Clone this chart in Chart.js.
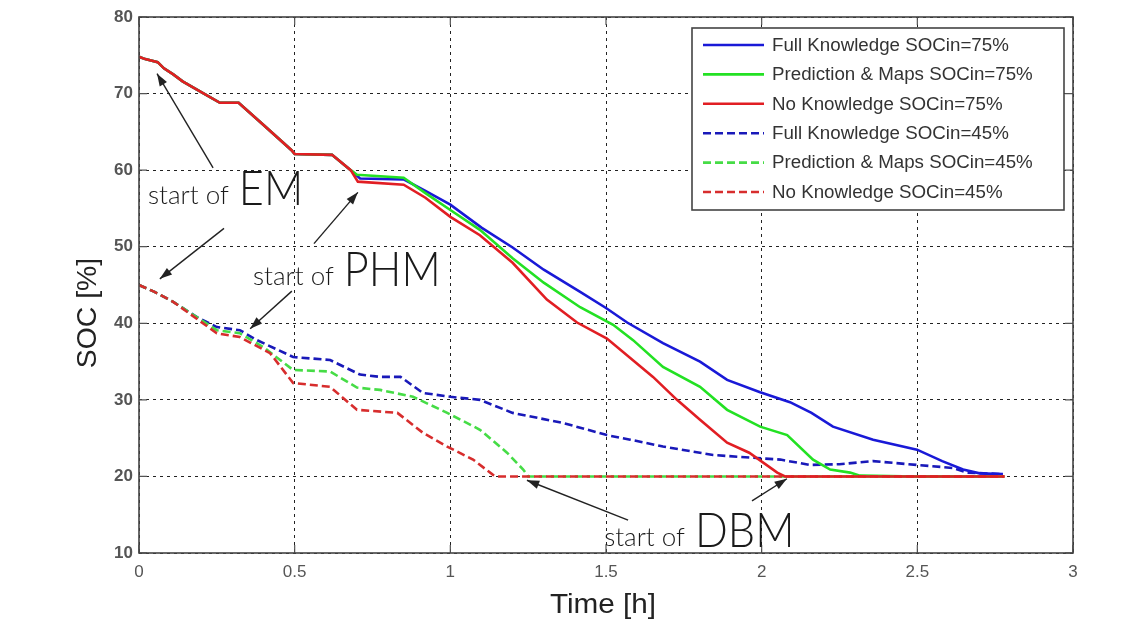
<!DOCTYPE html>
<html><head><meta charset="utf-8">
<script src="https://cdn.jsdelivr.net/npm/chart.js@4/dist/chart.umd.min.js"></script>
<style>html,body{margin:0;padding:0;background:#fff;}#wrap{width:1135px;height:622px;}</style>
</head><body><div id="wrap"><canvas id="c" width="1135" height="622"></canvas></div>
<script>
// ---- data (time in hours, SOC in %) ----
const xTicks = [0, 0.5, 1, 1.5, 2, 2.5, 3];
const yTicks = [10, 20, 30, 40, 50, 60, 70, 80];
const seriesLabels = [
  'Full Knowledge SOCin=75%', 'Prediction & Maps SOCin=75%', 'No Knowledge SOCin=75%',
  'Full Knowledge SOCin=45%', 'Prediction & Maps SOCin=45%', 'No Knowledge SOCin=45%'
];

const fk75_t   = [0, 0.02, 0.06, 0.08, 0.11, 0.14, 0.2, 0.26, 0.32, 0.4, 0.49, 0.5, 0.62, 0.68, 0.71, 0.85, 0.92, 1.0, 1.1, 1.2, 1.3, 1.417, 1.5, 1.568, 1.683, 1.802, 1.889, 1.995, 2.091, 2.16, 2.229, 2.358, 2.499, 2.58, 2.647, 2.7, 2.775];
const fk75_soc = [74.8, 74.5, 74.1, 73.3, 72.5, 71.6, 70.2, 68.8, 68.8, 65.9, 62.6, 62.1, 62.0, 60.0, 58.9, 58.8, 57.3, 55.5, 52.5, 49.9, 47.0, 44.1, 42.0, 40.1, 37.4, 35.0, 32.6, 31.0, 29.7, 28.3, 26.5, 24.8, 23.5, 22.0, 20.9, 20.4, 20.3];

const pm75_t   = [0, 0.02, 0.06, 0.08, 0.11, 0.14, 0.2, 0.26, 0.32, 0.4, 0.49, 0.5, 0.62, 0.68, 0.70, 0.85, 0.92, 1.0, 1.095, 1.2, 1.3, 1.417, 1.523, 1.587, 1.683, 1.802, 1.889, 1.995, 2.082, 2.165, 2.22, 2.284, 2.316, 2.5, 2.78];
const pm75_soc = [74.8, 74.5, 74.1, 73.3, 72.5, 71.6, 70.2, 68.8, 68.8, 65.9, 62.6, 62.1, 62.0, 60.0, 59.4, 59.0, 57.0, 54.8, 52.2, 48.5, 45.3, 42.1, 39.8, 37.8, 34.3, 31.7, 28.7, 26.5, 25.4, 22.2, 20.9, 20.5, 20.1, 20.0, 20.0];

const nk75_t   = [0, 0.02, 0.06, 0.08, 0.11, 0.14, 0.2, 0.26, 0.32, 0.4, 0.49, 0.5, 0.62, 0.68, 0.703, 0.85, 0.92, 1.0, 1.095, 1.2, 1.31, 1.407, 1.503, 1.651, 1.728, 1.802, 1.889, 1.96, 2.05, 2.075, 2.5, 2.78];
const nk75_soc = [74.8, 74.5, 74.1, 73.3, 72.5, 71.6, 70.2, 68.8, 68.8, 65.9, 62.6, 62.1, 62.0, 60.0, 58.5, 58.1, 56.4, 53.9, 51.5, 47.9, 43.1, 40.1, 38.0, 33.0, 30.0, 27.4, 24.4, 23.1, 20.5, 20.0, 20.0, 20.0];

const fk45_t   = [0, 0.05, 0.11, 0.186, 0.25, 0.324, 0.379, 0.495, 0.614, 0.71, 0.774, 0.84, 0.912, 1.0, 1.095, 1.2, 1.36, 1.503, 1.578, 1.683, 1.844, 1.985, 2.06, 2.155, 2.25, 2.358, 2.499, 2.615, 2.66, 2.775];
const fk45_soc = [45.0, 44.1, 42.8, 40.8, 39.5, 39.1, 37.8, 35.6, 35.2, 33.3, 33.0, 33.0, 30.9, 30.4, 30.0, 28.3, 27.0, 25.4, 24.8, 23.9, 22.8, 22.4, 22.2, 21.5, 21.6, 22.0, 21.5, 21.1, 20.5, 20.3];

const pm45_t   = [0, 0.05, 0.11, 0.25, 0.324, 0.399, 0.495, 0.614, 0.70, 0.774, 0.88, 0.99, 1.095, 1.182, 1.234, 1.25, 2.0, 2.78];
const pm45_soc = [45.0, 44.1, 42.8, 39.1, 38.7, 36.9, 33.9, 33.7, 31.6, 31.3, 30.4, 28.3, 26.1, 23.1, 20.9, 20.0, 20.0, 20.0];

const nk45_t   = [0, 0.05, 0.11, 0.25, 0.324, 0.421, 0.495, 0.614, 0.70, 0.83, 0.912, 0.99, 1.073, 1.137, 1.15, 2.0, 2.78];
const nk45_soc = [45.0, 44.1, 42.8, 38.7, 38.2, 36.1, 32.2, 31.7, 28.7, 28.3, 25.7, 23.9, 22.2, 20.2, 20.0, 20.0, 20.0];

// annotation anchors in data units (time h, SOC %)
const annotations = [
  { big: 'EM',  text: [0.029, 55.6], arrows: [[[0.238, 60.3], [0.058, 72.6]], [[0.273, 52.4], [0.067, 45.8]]] },
  { big: 'PHM', text: [0.366, 45.0], arrows: [[[0.562, 50.4], [0.703, 57.1]], [[0.491, 44.2], [0.357, 39.3]]] },
  { big: 'DBM', text: [1.494, 10.9], arrows: [[[1.571, 14.3], [1.246, 19.5]], [[1.969, 16.8], [2.081, 19.7]]] }
];

// ---- build datasets ----
function pts(t, s) { return t.map((v, i) => ({ x: v, y: s[i] })); }
const BLUE = 'rgb(25,25,215)', GREEN = 'rgb(35,225,35)', RED = 'rgb(225,30,35)';
const BLUE_D = 'rgb(25,25,185)', GREEN_D = 'rgb(70,220,70)', RED_D = 'rgb(215,45,45)';
const seriesData = [pts(fk75_t, fk75_soc), pts(pm75_t, pm75_soc), pts(nk75_t, nk75_soc),
                    pts(fk45_t, fk45_soc), pts(pm45_t, pm45_soc), pts(nk45_t, nk45_soc)];
const colors = [BLUE, GREEN, RED, BLUE_D, GREEN_D, RED_D];
const dashes = [[], [], [], [8, 4], [8, 4], [8, 4]];
const orders = [4, 3, 0, 5, 2, 1];

const datasets = seriesData.map((d, i) => ({
  label: seriesLabels[i], data: d, borderColor: colors[i], backgroundColor: colors[i],
  borderWidth: 2.6, borderDash: dashes[i], pointRadius: 0, tension: 0, fill: false, order: orders[i]
}));

const plotDeco = {
  id: 'plotDeco',
  beforeDatasetsDraw(chart) {
    const { ctx, chartArea: a } = chart;
    ctx.save();
    ctx.strokeStyle = '#555'; ctx.lineWidth = 1.2;
    const xs = chart.scales.x, ys = chart.scales.y;
    xTicks.forEach(v => { const p = xs.getPixelForValue(v);
      ctx.beginPath(); ctx.moveTo(p, a.bottom); ctx.lineTo(p, a.bottom - 8); ctx.moveTo(p, a.top); ctx.lineTo(p, a.top + 8); ctx.stroke(); });
    yTicks.forEach(v => { const p = ys.getPixelForValue(v);
      ctx.beginPath(); ctx.moveTo(a.left, p); ctx.lineTo(a.left + 8, p); ctx.moveTo(a.right, p); ctx.lineTo(a.right - 8, p); ctx.stroke(); });
    ctx.restore();
  },
  afterDraw(chart) {
    const { ctx, chartArea: a } = chart;
    const xs = chart.scales.x, ys = chart.scales.y;
    ctx.save();
    ctx.strokeStyle = '#444'; ctx.lineWidth = 1.6;
    ctx.strokeRect(a.left, a.top, a.right - a.left, a.bottom - a.top);
    ctx.fillStyle = '#222';
    ctx.font = '27px "Liberation Sans", Arial, sans-serif';
    ctx.textAlign = 'center'; ctx.textBaseline = 'alphabetic';
    ctx.save(); ctx.translate((a.left + a.right) / 2 - 3, 613); ctx.scale(1.1, 1); ctx.fillText('Time [h]', 0, 0); ctx.restore();
    ctx.save(); ctx.translate(96, 313); ctx.rotate(-Math.PI / 2); ctx.scale(1.05, 1); ctx.fillText('SOC [%]', 0, 0); ctx.restore();

    const lx = 692, ly = 28, lw = 372, lh = 182;
    ctx.fillStyle = '#fff'; ctx.fillRect(lx, ly, lw, lh);
    ctx.strokeStyle = '#444'; ctx.lineWidth = 1.6; ctx.strokeRect(lx, ly, lw, lh);
    ctx.font = '17.5px "Liberation Sans", Arial, sans-serif';
    ctx.textAlign = 'left'; ctx.textBaseline = 'middle';
    chart.data.datasets.forEach((ds, i) => {
      const yy = ly + 17 + i * 29.4;
      ctx.strokeStyle = ds.borderColor; ctx.lineWidth = 2.6; ctx.setLineDash(ds.borderDash);
      ctx.beginPath(); ctx.moveTo(703, yy); ctx.lineTo(764, yy); ctx.stroke();
      ctx.setLineDash([]);
      ctx.fillStyle = '#333';
      ctx.save(); ctx.translate(772, yy + 1); ctx.scale(1.07, 1); ctx.fillText(ds.label, 0, 0); ctx.restore();
    });

    annotations.forEach(an => {
      const tx = xs.getPixelForValue(an.text[0]), ty = ys.getPixelForValue(an.text[1]);
      ctx.fillStyle = '#1a1a1a'; ctx.textAlign = 'left'; ctx.textBaseline = 'alphabetic';
      ctx.font = '300 26px Lato, "Open Sans", sans-serif';
      ctx.fillText('start of', tx, ty);
      const w = ctx.measureText('start of').width;
      ctx.font = '300 47px Lato, "Open Sans", sans-serif';
      ctx.save(); ctx.translate(tx + w + 10, ty + 1); ctx.scale(0.92, 1); ctx.fillText(an.big, 0, 0); ctx.restore();
      an.arrows.forEach(ar => {
        const x0 = xs.getPixelForValue(ar[0][0]), y0 = ys.getPixelForValue(ar[0][1]);
        const x1 = xs.getPixelForValue(ar[1][0]), y1 = ys.getPixelForValue(ar[1][1]);
        ctx.strokeStyle = '#222'; ctx.lineWidth = 1.4;
        ctx.beginPath(); ctx.moveTo(x0, y0); ctx.lineTo(x1, y1); ctx.stroke();
        const ang = Math.atan2(y1 - y0, x1 - x0), L = 13, s = 0.33;
        ctx.fillStyle = '#222';
        ctx.beginPath(); ctx.moveTo(x1, y1);
        ctx.lineTo(x1 - L * Math.cos(ang - s), y1 - L * Math.sin(ang - s));
        ctx.lineTo(x1 - L * Math.cos(ang + s), y1 - L * Math.sin(ang + s));
        ctx.closePath(); ctx.fill();
      });
    });
    ctx.restore();
  }
};

new Chart(document.getElementById('c'), {
  type: 'line',
  data: { datasets },
  options: {
    responsive: false, animation: false, devicePixelRatio: 1,
    layout: { padding: { top: 17, right: 62, left: 0, bottom: 0 } },
    plugins: { legend: { display: false }, tooltip: { enabled: false } },
    scales: {
      x: {
        type: 'linear', min: 0, max: 3,
        afterBuildTicks: s => { s.ticks = xTicks.map(v => ({ value: v })); },
        afterFit: s => { s.height = 69; },
        grid: { color: '#222', lineWidth: 1, drawTicks: false },
        border: { display: false, dash: [3, 4] },
        ticks: { padding: 9, color: '#555', callback: v => String(v),
                 font: { family: '"Liberation Sans", Arial, sans-serif', size: 17 } }
      },
      y: {
        type: 'linear', min: 10, max: 80,
        afterBuildTicks: s => { s.ticks = yTicks.map(v => ({ value: v })); },
        afterFit: s => { s.width = 139; },
        grid: { color: '#222', lineWidth: 1, drawTicks: false },
        border: { display: false, dash: [3, 4] },
        ticks: { padding: 6, color: '#555', callback: v => String(v),
                 font: { family: '"Liberation Sans", Arial, sans-serif', size: 17, weight: 'bold' } }
      }
    }
  },
  plugins: [plotDeco]
});
</script></body></html>
